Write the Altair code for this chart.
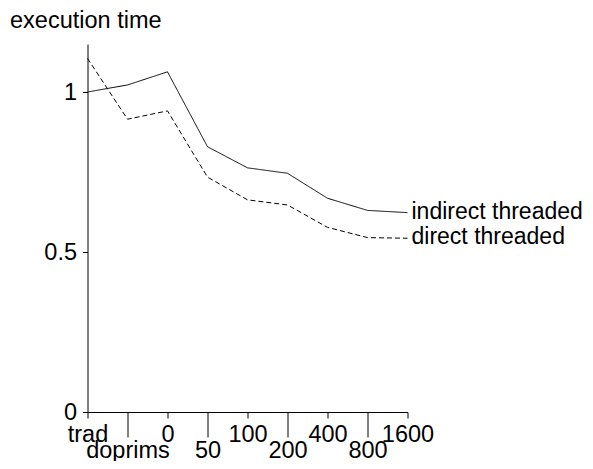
import altair as alt
import pandas as pd

categories = ["trad", "doprims", "0", "50", "100", "200", "400", "800", "1600"]
indirect = [1.000, 1.022, 1.063, 0.829, 0.763, 0.746, 0.668, 0.630, 0.623]
direct = [1.105, 0.915, 0.941, 0.734, 0.663, 0.647, 0.577, 0.545, 0.543]
series_names = ["indirect threaded", "direct threaded"]
y_ticks = [0, 0.5, 1]
title_text = "execution time"

rows = []
for i, c in enumerate(categories):
    rows.append({"pos": i, "cat": c, "series": series_names[0], "time": indirect[i]})
    rows.append({"pos": i, "cat": c, "series": series_names[1], "time": direct[i]})
df = pd.DataFrame(rows)

FONT = "Liberation Sans"
FS = 23.5

label_expr = "[" + ",".join(f"'{c}'" for c in categories) + "][datum.value]"
xscale = alt.Scale(domain=[0, len(categories) - 1], nice=False, zero=False)


def x_axis(values, tick_size, pad, domain):
    return alt.Axis(
        values=values,
        labelExpr=label_expr,
        title=None,
        grid=False,
        orient="bottom",
        domain=domain,
        domainColor="black",
        tickColor="black",
        labelColor="black",
        labelFont=FONT,
        labelFontSize=FS,
        labelAngle=0,
        labelAlign="center",
        labelBaseline="alphabetic",
        labelOverlap=False,
        labelFlush=False,
        tickSize=tick_size,
        labelPadding=pad,
    )


even_pos = [i for i in range(len(categories)) if i % 2 == 0]
odd_pos = [i for i in range(len(categories)) if i % 2 == 1]

y = alt.Y(
    "time:Q",
    scale=alt.Scale(domain=[0, 1.15], nice=False, zero=True),
    axis=alt.Axis(
        values=y_ticks,
        format="~g",
        title=None,
        grid=False,
        domainColor="black",
        tickColor="black",
        labelColor="black",
        labelFont=FONT,
        labelFontSize=FS,
        tickSize=5,
        labelPadding=6,
        labelOverlap=False,
        labelFlush=False,
    ),
)

base = alt.Chart(df)
lines = base.mark_line(color="black", strokeWidth=1).encode(
    x=alt.X("pos:Q", scale=xscale, axis=x_axis(even_pos, 6, 23, True)),
    y=y,
    strokeDash=alt.StrokeDash(
        "series:N",
        scale=alt.Scale(domain=series_names, range=[[1, 0], [5, 3]]),
        legend=None,
    ),
    detail="series:N",
)
end_labels = base.transform_filter(f"datum.pos == {len(categories) - 1}").mark_text(
    align="left", baseline="middle", dx=4, dy=-1, font=FONT, fontSize=23, color="black"
).encode(
    x=alt.X("pos:Q", scale=xscale, axis=x_axis(odd_pos, 25, 20, False)),
    y=alt.Y("time:Q"),
    text="series:N",
)

title = alt.Chart(pd.DataFrame({"t": [title_text]})).mark_text(
    align="left", baseline="alphabetic", font=FONT, fontSize=FS, color="black"
).encode(x=alt.value(-77.5), y=alt.value(-16), text="t:N")

chart = alt.layer(lines, end_labels, title).resolve_axis(x="independent").properties(
    width=320,
    height=368,
    autosize=alt.AutoSizeParams(type="none"),
    padding={"left": 79.5, "top": 36, "right": 177, "bottom": 49},
).configure(background="white").configure_view(stroke=None)

chart.save("out.html", embed_options={"renderer": "svg", "actions": False})
